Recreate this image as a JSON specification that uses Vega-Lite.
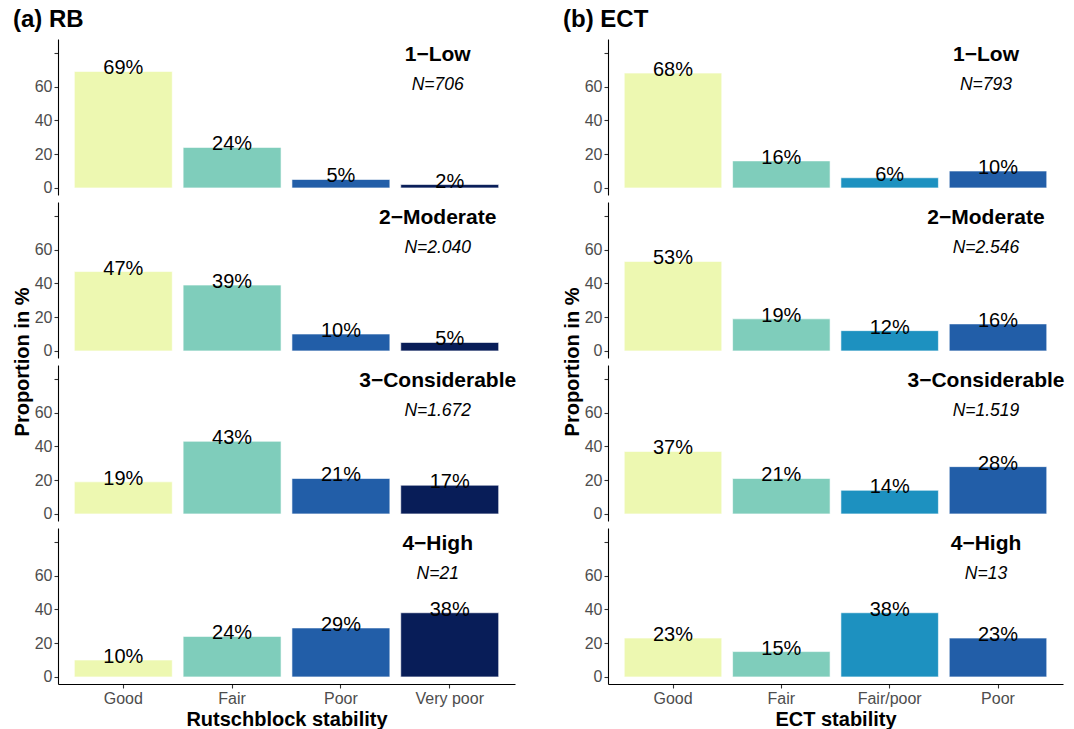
{
  "$schema": "https://vega.github.io/schema/vega-lite/v6.json",
  "background": "white",
  "padding": {"left": 12, "top": 8, "right": 0, "bottom": 5},
  "spacing": 45,
  "resolve": {"scale": {"color": "independent", "x": "independent", "y": "independent"}},
  "config": {
    "font": "Liberation Sans",
    "view": {"stroke": null},
    "axis": {
      "grid": false,
      "domainColor": "#000000",
      "domainWidth": 1.1,
      "tickColor": "#333333",
      "tickWidth": 1.1,
      "tickSize": 4,
      "labelColor": "#4D4D4D",
      "labelFontSize": 16,
      "labelOverlap": false,
      "labelFont": "Liberation Sans",
      "titleFont": "Liberation Sans",
      "titleFontSize": 20,
      "titleFontWeight": "bold",
      "titleColor": "#000000"
    },
    "header": {"titleFont": "Liberation Sans", "titleFontSize": 20, "titleFontWeight": "bold", "titleColor": "#000000", "titlePadding": -9, "labelPadding": 0, "labels": false},
    "title": {"font": "Liberation Sans", "fontSize": 24, "fontWeight": "bold", "color": "#000000", "anchor": "start", "frame": "bounds", "offset": 7}
  },
  "hconcat": [
    {
      "title": {"text": "(a) RB"},
      "data": {"values": [
        {"level": "1−Low", "n": "706", "stability": "Good", "pct": 69},
        {"level": "1−Low", "n": "706", "stability": "Fair", "pct": 24},
        {"level": "1−Low", "n": "706", "stability": "Poor", "pct": 5},
        {"level": "1−Low", "n": "706", "stability": "Very poor", "pct": 2},
        {"level": "2−Moderate", "n": "2.040", "stability": "Good", "pct": 47},
        {"level": "2−Moderate", "n": "2.040", "stability": "Fair", "pct": 39},
        {"level": "2−Moderate", "n": "2.040", "stability": "Poor", "pct": 10},
        {"level": "2−Moderate", "n": "2.040", "stability": "Very poor", "pct": 5},
        {"level": "3−Considerable", "n": "1.672", "stability": "Good", "pct": 19},
        {"level": "3−Considerable", "n": "1.672", "stability": "Fair", "pct": 43},
        {"level": "3−Considerable", "n": "1.672", "stability": "Poor", "pct": 21},
        {"level": "3−Considerable", "n": "1.672", "stability": "Very poor", "pct": 17},
        {"level": "4−High", "n": "21", "stability": "Good", "pct": 10},
        {"level": "4−High", "n": "21", "stability": "Fair", "pct": 24},
        {"level": "4−High", "n": "21", "stability": "Poor", "pct": 29},
        {"level": "4−High", "n": "21", "stability": "Very poor", "pct": 38}
      ]},
      "transform": [
        {"calculate": "datum.pct + '%'", "as": "label"},
        {"calculate": "'N=' + datum.n", "as": "nlabel"}
      ],
      "facet": {"row": {"field": "level", "type": "nominal", "title": "Proportion in %", "header": {"labels": false}, "sort": ["1−Low", "2−Moderate", "3−Considerable", "4−High"]}},
      "spacing": 7,
      "spec": {
        "width": 457,
        "height": 156,
        "layer": [
          {
            "mark": {"type": "bar", "stroke": "white", "strokeWidth": 0.6},
            "encoding": {
              "x": {"field": "stability", "type": "nominal", "sort": ["Good", "Fair", "Poor", "Very poor"], "scale": {"paddingInner": 0.1, "paddingOuter": 0.15}, "title": "Rutschblock stability", "axis": {"labelAngle": 0, "labelPadding": 2, "titlePadding": 3}},
              "y": {"field": "pct", "type": "quantitative", "scale": {"domain": [-4.2, 88.2], "nice": false, "zero": false}, "title": null, "axis": {"tickCount": 5, "labelOverlap": false, "labelExpr": "datum.value == 80 ? '' : datum.label", "labelPadding": 2}},
              "y2": {"datum": 0},
              "color": {"field": "stability", "type": "nominal", "scale": {"domain": ["Good", "Fair", "Poor", "Very poor"], "range": ["#EDF8B1", "#7FCDBB", "#225EA8", "#081D58"]}, "legend": null}
            }
          },
          {
            "mark": {"type": "text", "baseline": "alphabetic", "fontSize": 20, "dy": 3, "color": "#000000"},
            "encoding": {
              "x": {"field": "stability", "type": "nominal", "sort": ["Good", "Fair", "Poor", "Very poor"], "title": "Rutschblock stability"},
              "y": {"field": "pct", "type": "quantitative", "title": null},
              "text": {"field": "label"}
            }
          },
          {
            "transform": [{"filter": "datum.stability == 'Good'"}],
            "mark": {"type": "text", "baseline": "middle", "fontSize": 21, "fontWeight": "bold", "dx": -12, "color": "#000000"},
            "encoding": {
              "x": {"datum": "Very poor", "title": "Rutschblock stability"},
              "y": {"datum": 79, "title": null},
              "text": {"field": "level"}
            }
          },
          {
            "transform": [{"filter": "datum.stability == 'Good'"}],
            "mark": {"type": "text", "baseline": "middle", "fontSize": 17.5, "fontStyle": "italic", "dx": -12, "color": "#000000"},
            "encoding": {
              "x": {"datum": "Very poor", "title": "Rutschblock stability"},
              "y": {"datum": 61, "title": null},
              "text": {"field": "nlabel"}
            }
          }
        ]
      }
    },
    {
      "title": {"text": "(b) ECT"},
      "data": {"values": [
        {"level": "1−Low", "n": "793", "stability": "Good", "pct": 68},
        {"level": "1−Low", "n": "793", "stability": "Fair", "pct": 16},
        {"level": "1−Low", "n": "793", "stability": "Fair/poor", "pct": 6},
        {"level": "1−Low", "n": "793", "stability": "Poor", "pct": 10},
        {"level": "2−Moderate", "n": "2.546", "stability": "Good", "pct": 53},
        {"level": "2−Moderate", "n": "2.546", "stability": "Fair", "pct": 19},
        {"level": "2−Moderate", "n": "2.546", "stability": "Fair/poor", "pct": 12},
        {"level": "2−Moderate", "n": "2.546", "stability": "Poor", "pct": 16},
        {"level": "3−Considerable", "n": "1.519", "stability": "Good", "pct": 37},
        {"level": "3−Considerable", "n": "1.519", "stability": "Fair", "pct": 21},
        {"level": "3−Considerable", "n": "1.519", "stability": "Fair/poor", "pct": 14},
        {"level": "3−Considerable", "n": "1.519", "stability": "Poor", "pct": 28},
        {"level": "4−High", "n": "13", "stability": "Good", "pct": 23},
        {"level": "4−High", "n": "13", "stability": "Fair", "pct": 15},
        {"level": "4−High", "n": "13", "stability": "Fair/poor", "pct": 38},
        {"level": "4−High", "n": "13", "stability": "Poor", "pct": 23}
      ]},
      "transform": [
        {"calculate": "datum.pct + '%'", "as": "label"},
        {"calculate": "'N=' + datum.n", "as": "nlabel"}
      ],
      "facet": {"row": {"field": "level", "type": "nominal", "title": "Proportion in %", "header": {"labels": false}, "sort": ["1−Low", "2−Moderate", "3−Considerable", "4−High"]}},
      "spacing": 7,
      "spec": {
        "width": 455,
        "height": 156,
        "layer": [
          {
            "mark": {"type": "bar", "stroke": "white", "strokeWidth": 0.6},
            "encoding": {
              "x": {"field": "stability", "type": "nominal", "sort": ["Good", "Fair", "Fair/poor", "Poor"], "scale": {"paddingInner": 0.1, "paddingOuter": 0.15}, "title": "ECT stability", "axis": {"labelAngle": 0, "labelPadding": 2, "titlePadding": 3}},
              "y": {"field": "pct", "type": "quantitative", "scale": {"domain": [-4.2, 88.2], "nice": false, "zero": false}, "title": null, "axis": {"tickCount": 5, "labelOverlap": false, "labelExpr": "datum.value == 80 ? '' : datum.label", "labelPadding": 2}},
              "y2": {"datum": 0},
              "color": {"field": "stability", "type": "nominal", "scale": {"domain": ["Good", "Fair", "Fair/poor", "Poor"], "range": ["#EDF8B1", "#7FCDBB", "#1D91C0", "#225EA8"]}, "legend": null}
            }
          },
          {
            "mark": {"type": "text", "baseline": "alphabetic", "fontSize": 20, "dy": 3, "color": "#000000"},
            "encoding": {
              "x": {"field": "stability", "type": "nominal", "sort": ["Good", "Fair", "Fair/poor", "Poor"], "title": "ECT stability"},
              "y": {"field": "pct", "type": "quantitative", "title": null},
              "text": {"field": "label"}
            }
          },
          {
            "transform": [{"filter": "datum.stability == 'Good'"}],
            "mark": {"type": "text", "baseline": "middle", "fontSize": 21, "fontWeight": "bold", "dx": -12, "color": "#000000"},
            "encoding": {
              "x": {"datum": "Poor", "title": "ECT stability"},
              "y": {"datum": 79, "title": null},
              "text": {"field": "level"}
            }
          },
          {
            "transform": [{"filter": "datum.stability == 'Good'"}],
            "mark": {"type": "text", "baseline": "middle", "fontSize": 17.5, "fontStyle": "italic", "dx": -12, "color": "#000000"},
            "encoding": {
              "x": {"datum": "Poor", "title": "ECT stability"},
              "y": {"datum": 61, "title": null},
              "text": {"field": "nlabel"}
            }
          }
        ]
      }
    }
  ]
}
